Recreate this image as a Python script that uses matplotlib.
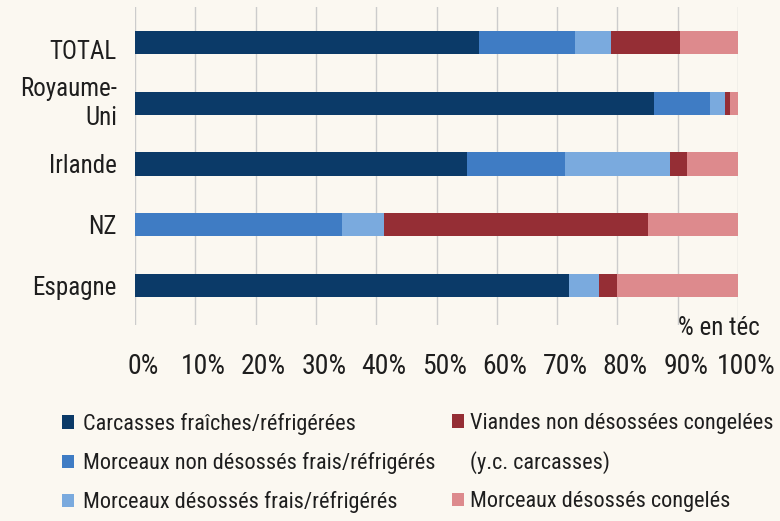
import matplotlib
matplotlib.use("Agg")
import matplotlib.pyplot as plt
import matplotlib.font_manager as fm
from matplotlib.patches import Patch
from matplotlib.transforms import ScaledTranslation
import numpy as np

# ---- data ----
categories = ['TOTAL', 'Royaume-\nUni', 'Irlande', 'NZ', 'Espagne']
series_labels = ['Carcasses fraîches/réfrigérées',
                 'Morceaux non désossés frais/réfrigérés',
                 'Morceaux désossés frais/réfrigérés',
                 'Viandes non désossées congelées',
                 'Morceaux désossés congelés']
carcasses = [57, 86, 55, 0, 72]
morceaux_nd_frais = [16, 9.3, 16.3, 34.3, 0]
morceaux_d_frais = [6, 2.6, 17.4, 7, 5]
viandes_nd_cong = [11.3, 0.8, 2.8, 43.8, 3]
morceaux_d_cong = [9.7, 1.3, 8.5, 14.9, 20]
xticks = list(range(0, 101, 10))
xtick_labels = [f"{v}%" for v in xticks]
unit_label = '% en téc'
legend_extra = '(y.c. carcasses)'

colors = ['#0b3a68', '#3f7cc4', '#7aaade', '#952e35', '#dd8a8d']
bg = '#fbf8f1'
txt = '#1e1e1e'

# ---- font ----
names = {f.name for f in fm.fontManager.ttflist}
family = 'DejaVu Sans'
for cand in ['Liberation Sans Narrow', 'DejaVu Sans Condensed', 'Roboto Condensed']:
    if cand in names:
        family = cand
        break
plt.rcParams['font.family'] = [family, 'DejaVu Sans']

W, H = 780, 521
fig = plt.figure(figsize=(W / 100, H / 100), dpi=100, facecolor=bg)
ax = fig.add_axes([135 / W, 1 - 325 / H, 603 / W, 318 / H])
ax.set_facecolor(bg)

series = [carcasses, morceaux_nd_frais, morceaux_d_frais, viandes_nd_cong, morceaux_d_cong]
y = np.arange(len(categories))
left = np.zeros(len(categories))
containers = []
for vals, col, lab in zip(series, colors, series_labels):
    c = ax.barh(y, vals, left=left, height=0.38, color=col, edgecolor='none', label=lab, zorder=3)
    containers.append(c)
    left += np.array(vals)

ax.set_xlim(0, 100)
ax.set_ylim(4.65, -0.584)
ax.set_xticks(xticks)
ax.set_xticklabels(xtick_labels, fontsize=20, color=txt)
ax.set_yticks(y)
ax.set_yticklabels(categories, fontsize=18, color=txt, linespacing=1.3)
ax.tick_params(axis='both', length=0)
ax.tick_params(axis='x', pad=20)
ax.tick_params(axis='y', pad=13)
for s in ax.spines.values():
    s.set_visible(False)
ax.grid(axis='x', color='#cccccc', linewidth=1.0, zorder=0)
ax.set_axisbelow(True)

off = ScaledTranslation(8 / 100, 0, fig.dpi_scale_trans)
for lab in ax.get_xticklabels():
    lab.set_transform(lab.get_transform() + off)
ytl = ax.get_yticklabels()
ytl[0].set_transform(ytl[0].get_transform() + ScaledTranslation(0, -7 / 100, fig.dpi_scale_trans))
ytl[1].set_transform(ytl[1].get_transform() + ScaledTranslation(0, 5 / 100, fig.dpi_scale_trans))

fig.text(760 / W, 1 - 328 / H, unit_label, ha='right', va='center', fontsize=18, color=txt)

# ---- legends ----
common = dict(frameon=False, fontsize=16, handlelength=0.55, handleheight=0.55,
              labelspacing=0.77, borderpad=0, borderaxespad=0,
              loc='upper left', labelcolor=txt)
leg1 = fig.legend(handles=containers[:3], labels=series_labels[:3], handletextpad=0.4,
                  bbox_to_anchor=(62 / W, 1 - 413 / H), **common)
blank = Patch(facecolor='none', edgecolor='none')
leg2 = fig.legend(handles=[containers[3], blank, containers[4]],
                  labels=[series_labels[3], legend_extra, series_labels[4]], handletextpad=0.25,
                  bbox_to_anchor=(452 / W, 1 - 413 / H), **common)

fig.savefig('out.png', dpi=100, facecolor=bg)
